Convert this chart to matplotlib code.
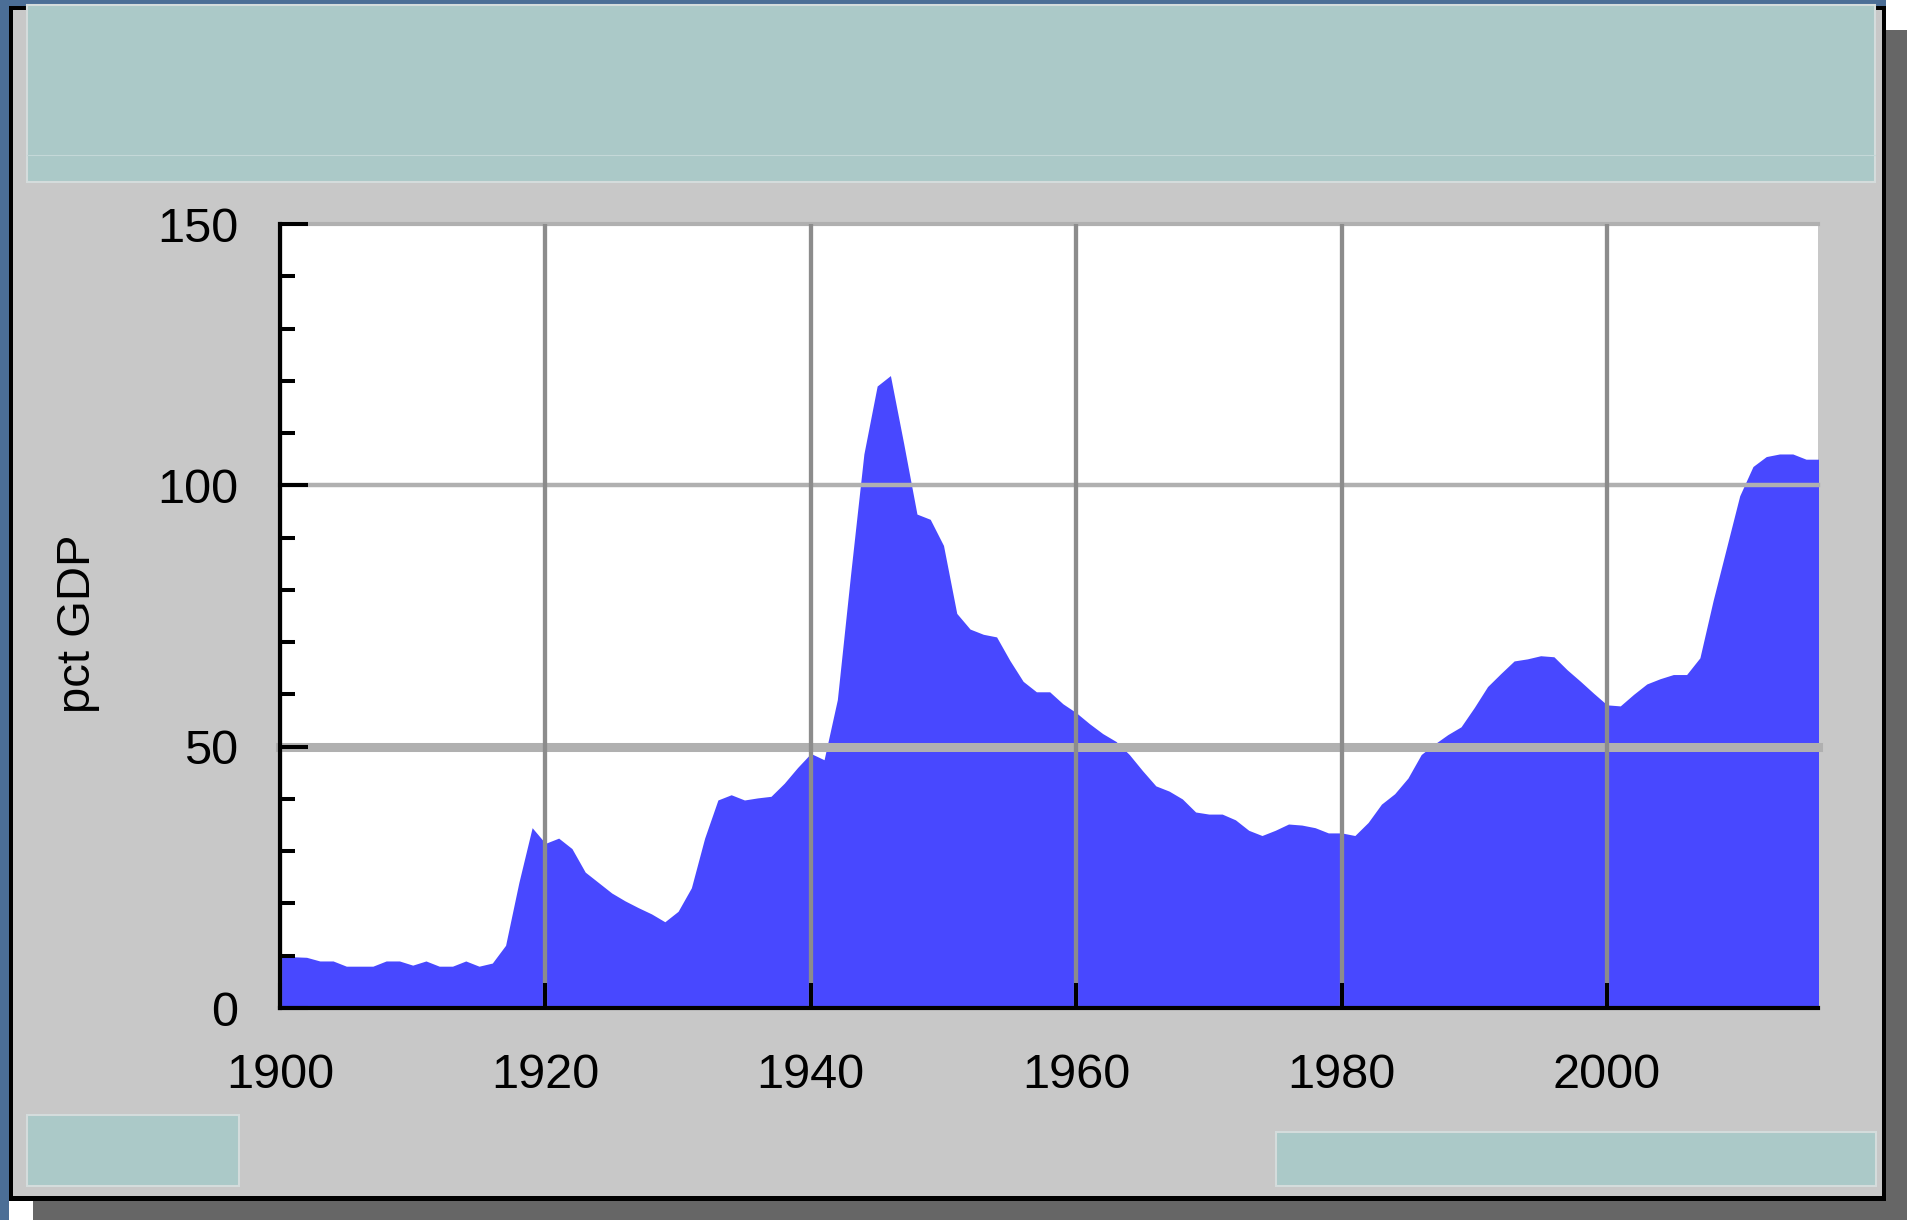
import numpy as np
import matplotlib.pyplot as plt
from matplotlib.patches import Rectangle
from matplotlib.ticker import MultipleLocator

plt.rcParams['font.family'] = ['Liberation Sans', 'DejaVu Sans']

# gross federal debt, percent of GDP
years = np.arange(1900, 2017)
debt = [
    9.8, 9.8, 9.7, 9.0, 9.0, 8.0, 8.0, 8.0, 9.0, 9.0,          # 1900s
    8.2, 9.0, 8.0, 8.0, 9.0, 8.0, 8.6, 12.0, 24.0, 34.5,       # 1910s
    31.5, 32.5, 30.5, 26.0, 24.0, 22.0, 20.5, 19.2, 18.0, 16.5,  # 1920s
    18.5, 23.0, 32.5, 39.8, 40.8, 39.8, 40.2, 40.5, 43.0, 46.0,  # 1930s
    48.7, 47.5, 59.0, 83.0, 106.0, 119.0, 121.0, 108.0, 94.5, 93.5,  # 1940s
    88.5, 75.5, 72.5, 71.5, 71.0, 66.5, 62.5, 60.5, 60.5, 58.2,  # 1950s
    56.5, 54.4, 52.5, 51.0, 48.5, 45.4, 42.5, 41.5, 40.0, 37.5,  # 1960s
    37.1, 37.1, 36.0, 34.0, 33.0, 34.0, 35.2, 35.0, 34.5, 33.5,  # 1970s
    33.5, 33.0, 35.5, 39.0, 41.0, 44.0, 48.5, 50.5, 52.3, 53.8,  # 1980s
    57.5, 61.5, 64.0, 66.4, 66.8, 67.4, 67.2, 64.7, 62.5, 60.2,  # 1990s
    58.0, 57.8, 60.0, 62.0, 63.0, 63.8, 63.8, 67.0, 78.0, 88.0,  # 2000s
    98.0, 103.6, 105.5, 106.0, 106.0, 105.0, 105.0,             # 2010s
]
x_ticks = [1900, 1920, 1940, 1960, 1980, 2000]
y_ticks = [0, 50, 100, 150]
y_label = "pct GDP"

W, H = 1908, 1220
fig = plt.figure(figsize=(W / 100, H / 100), dpi=100)

# slide-style frame drawn in pixel coordinates
bg = fig.add_axes([0, 0, 1, 1], zorder=-1)
bg.set_xlim(0, W)
bg.set_ylim(H, 0)
bg.axis('off')

def box(x0, y0, x1, y1, color, **kw):
    bg.add_patch(Rectangle((x0, y0), x1 - x0, y1 - y0, facecolor=color, **kw))

box(0, 0, W, H, '#4b6e96', lw=0)
box(1886, 0, W, 30, 'white', lw=0)
box(1886, 30, W, H, '#666666', lw=0)
box(9, 1201, 33, H, 'white', lw=0)
box(33, 1201, W, H, '#666666', lw=0)
box(9, 6, 1886, 1201, 'black', lw=0)
box(13, 10, 1882, 1196, '#c8c8c8', lw=0)
teal = '#abc9c8'
edge = '#d4dcdc'
box(27, 5, 1875, 182, teal, edgecolor=edge, lw=1.5)
bg.plot([27, 1875], [155, 155], color='#c4d8d8', lw=0.8)
box(27, 1115, 239, 1186, teal, edgecolor=edge, lw=1.5)
box(1276, 1132, 1876, 1186, teal, edgecolor=edge, lw=1.5)

# chart
ax = fig.add_axes([280 / W, 1 - 1008 / H, 1538 / W, 784 / H])
ax.set_facecolor('white')
ax.fill_between(years, debt, 0, color='#4848FF', lw=0, zorder=1)

ax.set_xlim(1900, 2015.9)
ax.set_ylim(0, 150)
ax.set_xticks(x_ticks)
ax.set_yticks(y_ticks)
ax.yaxis.set_minor_locator(MultipleLocator(10))

ax.set_axisbelow(False)
ax.grid(axis='x', color='#8c8c8c', lw=3.1)
for v, w in [(50, 6.5), (100, 3.2), (150, 3.0)]:
    ax.axhline(v, color='#b0b0b0', lw=w, zorder=2, clip_on=False)

for side in ['top', 'right']:
    ax.spines[side].set_visible(False)
for side in ['left', 'bottom']:
    ax.spines[side].set_linewidth(3.0)
    ax.spines[side].set_color('black')
    ax.spines[side].set_zorder(3)

ax.tick_params(axis='x', which='major', direction='in', length=18, width=2.9,
               color='black', pad=32.5, labelsize=35)
ax.tick_params(axis='y', which='major', direction='in', length=20, width=2.9,
               color='black', pad=30, labelsize=35)
ax.tick_params(axis='y', which='minor', direction='in', length=11, width=2.9,
               color='black')

ax.set_ylabel(y_label, fontsize=34)
ax.yaxis.set_label_coords(-0.117, 0.49)

fig.savefig('out.png', dpi=100)
